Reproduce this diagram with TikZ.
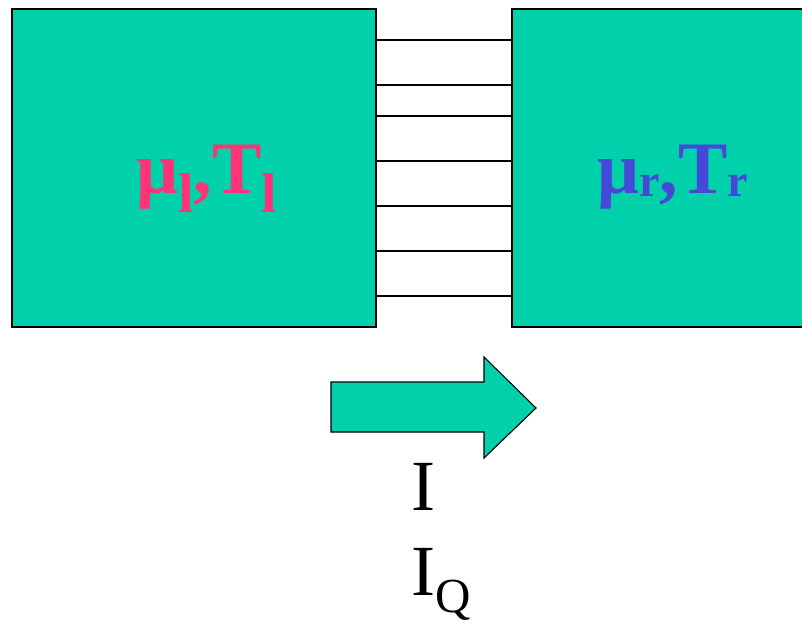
\documentclass[tikz,border=0pt]{standalone}
\usepackage{fontspec}
\setmainfont{Liberation Serif}
\definecolor{teal}{RGB}{0,209,170}
\definecolor{pinkc}{RGB}{255,51,119}
\definecolor{bluec}{RGB}{70,72,216}
\newcommand{\sz}[1]{\fontsize{#1}{#1}\selectfont}
\begin{document}
\begin{tikzpicture}[x=1pt, y=-1pt,
    box/.style={draw, fill=teal, line width=1.3pt, inner sep=0pt},
    lbl/.style={inner sep=0pt, font=\bfseries\sz{74}}]
    \useasboundingbox (0,0) rectangle (802,624);
    % Reservoirs
    \node[box, minimum width=364pt, minimum height=318pt] (lbox) at (194,168) {};
    \node[box, minimum width=300pt, minimum height=318pt] (rbox) at (662,168) {};
    \node[lbl, text=pinkc, anchor=base west] (lmu) at (136,193)
      {μ\raisebox{-19pt}{\sz{56}l},T\raisebox{-19pt}{\sz{56}l}};
    \node[lbl, text=bluec, anchor=base west] (rmu) at (597,193)
      {μ\raisebox{-3pt}{\sz{46}r},T\raisebox{-3pt}{\sz{46}r}};

    % Channels
    \foreach \y in {40,85,116,161,206,251,296}
      \draw[line width=1.5pt] (lbox.east |- 0,\y) -- (rbox.west |- 0,\y);

    % Current arrow
    \draw[fill=teal, line width=1.1pt] (331,382) -- (484,382) -- (484,357) -- (536,408)
      -- (484,458) -- (484,432) -- (331,432) -- cycle;
    \node[inner sep=0pt, anchor=base west, font=\sz{72}] (cur) at (411,510) {I};
    \node[inner sep=0pt, anchor=base west, font=\sz{72}] (heat) at (411,595)
      {I\raisebox{-17pt}{\sz{49}Q}};
\end{tikzpicture}
\end{document}
